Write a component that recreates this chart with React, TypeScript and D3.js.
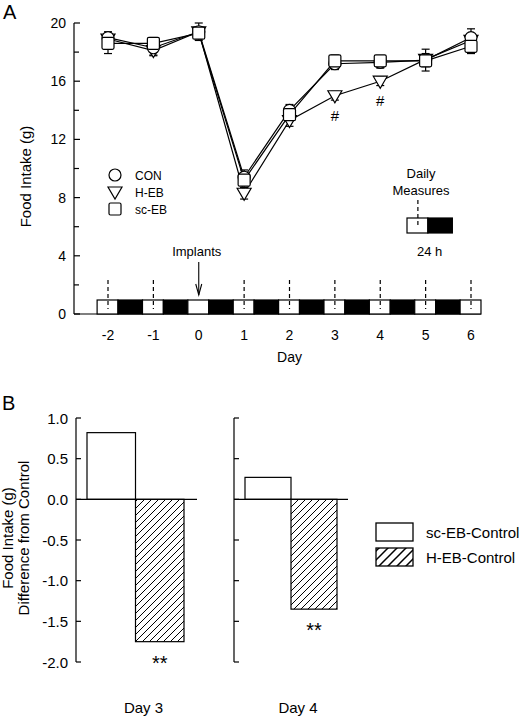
import React from "react";
import * as d3 from "d3";

// ---------- Panel A data ----------
const days = [-2, -1, 0, 1, 2, 3, 4, 5, 6];
const conMean = [19.0, 18.3, 19.4, 9.4, 14.0, 17.2, 17.3, 17.45, 19.0];
const conErr = [0.4, 0.55, 0.6, 0.5, 0.4, 0.4, 0.4, 0.75, 0.6];
const hebMean = [18.9, 18.1, 19.4, 8.3, 13.3, 15.0, 16.0, 17.5, 18.8];
const hebErr = [0.3, 0.3, 0.3, 0.4, 0.4, 0.3, 0.3, 0.4, 0.4];
const scMean = [18.6, 18.6, 19.3, 9.2, 13.7, 17.4, 17.4, 17.4, 18.4];
const scErr = [0.7, 0.4, 0.4, 0.5, 0.4, 0.4, 0.3, 0.4, 0.5];
const seriesNames = ["CON", "H-EB", "sc-EB"];
const yTicksA = [0, 4, 8, 12, 16, 20];
const yMinorA = [2, 6, 10, 14, 18];
const sigDaysA = [3, 4]; // '#' under H-EB
const lightOn = -0.24; // light phase start relative to daily measure (days)
const lightOff = 0.22; // light phase end
const implantDay = 0;

// ---------- Panel B data ----------
const bDays = ["Day 3", "Day 4"];
const bSeries = ["sc-EB-Control", "H-EB-Control"];
const scDiff = [0.82, 0.27];
const hebDiff = [-1.75, -1.35];
const yTicksB = [-2.0, -1.5, -1.0, -0.5, 0.0, 0.5, 1.0];

const FONT = "'Liberation Sans', Arial, Helvetica, sans-serif";

function Marker({ type, x, y }: { type: string; x: number; y: number }) {
  if (type === "CON")
    return <circle cx={x} cy={y} r={6} fill="white" stroke="black" strokeWidth={1.2} />;
  if (type === "H-EB")
    return (
      <path
        d={`M${x - 7},${y - 5} L${x + 7},${y - 5} L${x},${y + 7} Z`}
        fill="white"
        stroke="black"
        strokeWidth={1.2}
      />
    );
  return <rect x={x - 6} y={y - 6} width={12} height={12} rx={1.5} fill="white" stroke="black" strokeWidth={1.2} />;
}

export default function App() {
  // Panel A scales
  const x = d3.scaleLinear().domain([-2, 6]).range([108, 471]);
  const y = d3.scaleLinear().domain([0, 20]).range([314, 23]);
  const dayW = x(1) - x(0);
  const axisX = 74;
  const barTop = 300;
  const barBot = 314;

  const series = [
    { name: "H-EB", mean: hebMean, err: hebErr },
    { name: "CON", mean: conMean, err: conErr },
    { name: "sc-EB", mean: scMean, err: scErr },
  ];
  const line = d3
    .line<number>()
    .x((_, i) => x(days[i]))
    .y((d) => y(d));

  // Panel B scales
  const yB = d3.scaleLinear().domain([-2, 1]).range([662, 418]);
  const panels = [
    { axis: 76, zeroEnd: 197, band: d3.scaleBand<string>().domain(bSeries).range([87, 184]) },
    { axis: 234, zeroEnd: 348, band: d3.scaleBand<string>().domain(bSeries).range([245, 337]) },
  ];
  const bVals = [scDiff, hebDiff];

  const legendBox = { x: 407, y: 218 };

  return (
    <svg
      width={523}
      height={719}
      style={{ position: "absolute", left: 0, top: 0, background: "white" }}
      fontFamily={FONT}
    >
      <defs>
        <pattern id="hatch" patternUnits="userSpaceOnUse" width={7} height={7}>
          <path d="M-1,1 L1,-1 M0,7 L7,0 M6,8 L8,6" stroke="black" strokeWidth={1} />
        </pattern>
        <pattern id="hatchL" patternUnits="userSpaceOnUse" width={9} height={9}>
          <path d="M-1,1 L1,-1 M0,9 L9,0 M8,10 L10,8" stroke="black" strokeWidth={1.5} />
        </pattern>
      </defs>

      {/* ================= Panel A ================= */}
      <text x={3} y={19} fontSize={20}>A</text>
      {/* y axis */}
      <line x1={axisX} x2={axisX} y1={y(20)} y2={barBot} stroke="black" strokeWidth={1.2} />
      {yTicksA.map((t) => (
        <g key={t}>
          <line x1={axisX} x2={axisX + 6} y1={y(t)} y2={y(t)} stroke="black" strokeWidth={1.2} />
          <text x={66} y={y(t) + 5} fontSize={14} textAnchor="end">{t}</text>
        </g>
      ))}
      {yMinorA.map((t) => (
        <line key={t} x1={axisX} x2={axisX + 5} y1={y(t)} y2={y(t)} stroke="black" strokeWidth={1.2} />
      ))}
      <text transform={`translate(31,${(y(0) + y(20)) / 2 + 8}) rotate(-90)`} fontSize={15} textAnchor="middle">
        Food Intake (g)
      </text>
      {/* x axis line */}
      <line x1={axisX} x2={x(6 + lightOff)} y1={barBot} y2={barBot} stroke="black" strokeWidth={1.2} />
      {/* light / dark bar */}
      {days.map((d, i) => (
        <g key={d}>
          <rect x={x(d + lightOn)} y={barTop} width={x(d + lightOff) - x(d + lightOn)} height={barBot - barTop} fill="white" stroke="black" strokeWidth={1.2} />
          {i < days.length - 1 && (
            <rect x={x(d + lightOff)} y={barTop} width={x(d + 1 + lightOn) - x(d + lightOff)} height={barBot - barTop} fill="black" stroke="black" strokeWidth={1.2} />
          )}
          {d !== implantDay && (
            <line x1={x(d)} x2={x(d)} y1={280} y2={309} stroke="black" strokeWidth={1.2} strokeDasharray="4,3" />
          )}
          <text x={x(d)} y={340} fontSize={14} textAnchor="middle">{d}</text>
        </g>
      ))}
      <text x={(x(-2) + x(6)) / 2} y={362} fontSize={14} textAnchor="middle">Day</text>

      {/* Implants arrow */}
      <text x={x(implantDay) - 2} y={256} fontSize={13} textAnchor="middle">Implants</text>
      <line x1={x(implantDay)} x2={x(implantDay)} y1={262} y2={295} stroke="black" strokeWidth={1.1} />
      <path d={`M${x(implantDay) - 3},${284} L${x(implantDay)},${295} L${x(implantDay) + 3},${284}`} fill="none" stroke="black" strokeWidth={1.1} />

      {/* Daily measures inset */}
      <text x={421} y={178} fontSize={13} textAnchor="middle">Daily</text>
      <text x={421} y={195} fontSize={13} textAnchor="middle">Measures</text>
      <rect x={legendBox.x} y={legendBox.y} width={(lightOff - lightOn) * dayW} height={15} fill="white" stroke="black" strokeWidth={1.2} />
      <rect x={legendBox.x + (lightOff - lightOn) * dayW} y={legendBox.y} width={dayW - (lightOff - lightOn) * dayW} height={15} fill="black" stroke="black" strokeWidth={1.2} />
      <line x1={legendBox.x - lightOn * dayW} x2={legendBox.x - lightOn * dayW} y1={200} y2={226} stroke="black" strokeWidth={1.2} strokeDasharray="4,3" />
      <text x={legendBox.x + dayW / 2} y={256} fontSize={13} textAnchor="middle">24 h</text>

      {/* series lines */}
      {series.map((s) => (
        <path key={s.name} d={line(s.mean) || ""} fill="none" stroke="black" strokeWidth={1.2} />
      ))}
      {/* error bars */}
      {series.map((s) =>
        s.mean.map((m, i) => (
          <g key={s.name + i} stroke="black" strokeWidth={1.2}>
            <line x1={x(days[i])} x2={x(days[i])} y1={y(m + s.err[i])} y2={y(m - s.err[i])} />
            <line x1={x(days[i]) - 4} x2={x(days[i]) + 4} y1={y(m + s.err[i])} y2={y(m + s.err[i])} />
            <line x1={x(days[i]) - 4} x2={x(days[i]) + 4} y1={y(m - s.err[i])} y2={y(m - s.err[i])} />
          </g>
        ))
      )}
      {/* markers */}
      {series.map((s) =>
        s.mean.map((m, i) => <Marker key={s.name + "m" + i} type={s.name} x={x(days[i])} y={y(m)} />)
      )}
      {/* significance # */}
      {sigDaysA.map((d) => {
        const i = days.indexOf(d);
        return (
          <text key={d} x={x(d)} y={y(hebMean[i]) + 25} fontSize={15} textAnchor="middle">#</text>
        );
      })}
      {/* legend A */}
      {seriesNames.map((n, i) => (
        <g key={n}>
          <Marker type={n} x={115} y={175 + i * 17} />
          <text x={135} y={175 + i * 17 + 4.5} fontSize={12}>{n}</text>
        </g>
      ))}

      {/* ================= Panel B ================= */}
      <text x={2} y={410} fontSize={20}>B</text>
      <text transform={`translate(13,538) rotate(-90)`} fontSize={15} textAnchor="middle">Food Intake (g)</text>
      <text transform={`translate(29,538) rotate(-90)`} fontSize={15} textAnchor="middle">Difference from Control</text>
      {panels.map((p, pi) => (
        <g key={pi}>
          <line x1={p.axis} x2={p.axis} y1={yB(1)} y2={yB(-2)} stroke="black" strokeWidth={1.2} />
          {yTicksB.map((t) => (
            <g key={t}>
              <line x1={p.axis} x2={p.axis + 5} y1={yB(t)} y2={yB(t)} stroke="black" strokeWidth={1.2} />
              {pi === 0 && (
                <text x={68} y={yB(t) + 5.5} fontSize={15} textAnchor="end">{t.toFixed(1)}</text>
              )}
            </g>
          ))}
          {bSeries.map((s, si) => {
            const v = bVals[si][pi];
            const bx = p.band(s) || 0;
            return (
              <rect
                key={s}
                x={bx}
                y={yB(Math.max(0, v))}
                width={p.band.bandwidth()}
                height={Math.abs(yB(v) - yB(0))}
                fill={si === 0 ? "white" : "url(#hatch)"}
                stroke="black"
                strokeWidth={1.2}
              />
            );
          })}
          <line x1={p.axis} x2={p.zeroEnd} y1={yB(0)} y2={yB(0)} stroke="black" strokeWidth={1.2} />
          <text
            x={(p.band(bSeries[1]) || 0) + p.band.bandwidth() / 2}
            y={yB(hebDiff[pi]) + 28}
            fontSize={20}
            textAnchor="middle"
          >
            **
          </text>
          <text x={(p.axis + p.zeroEnd) / 2 + 7} y={713} fontSize={15} textAnchor="middle">{bDays[pi]}</text>
        </g>
      ))}
      {/* legend B */}
      {bSeries.map((s, i) => (
        <g key={s}>
          <rect x={376} y={523 + i * 25} width={37} height={18} fill={i === 0 ? "white" : "url(#hatchL)"} stroke="black" strokeWidth={1.3} />
          <text x={426} y={532 + i * 25 + 5.5} fontSize={15}>{s}</text>
        </g>
      ))}
    </svg>
  );
}
